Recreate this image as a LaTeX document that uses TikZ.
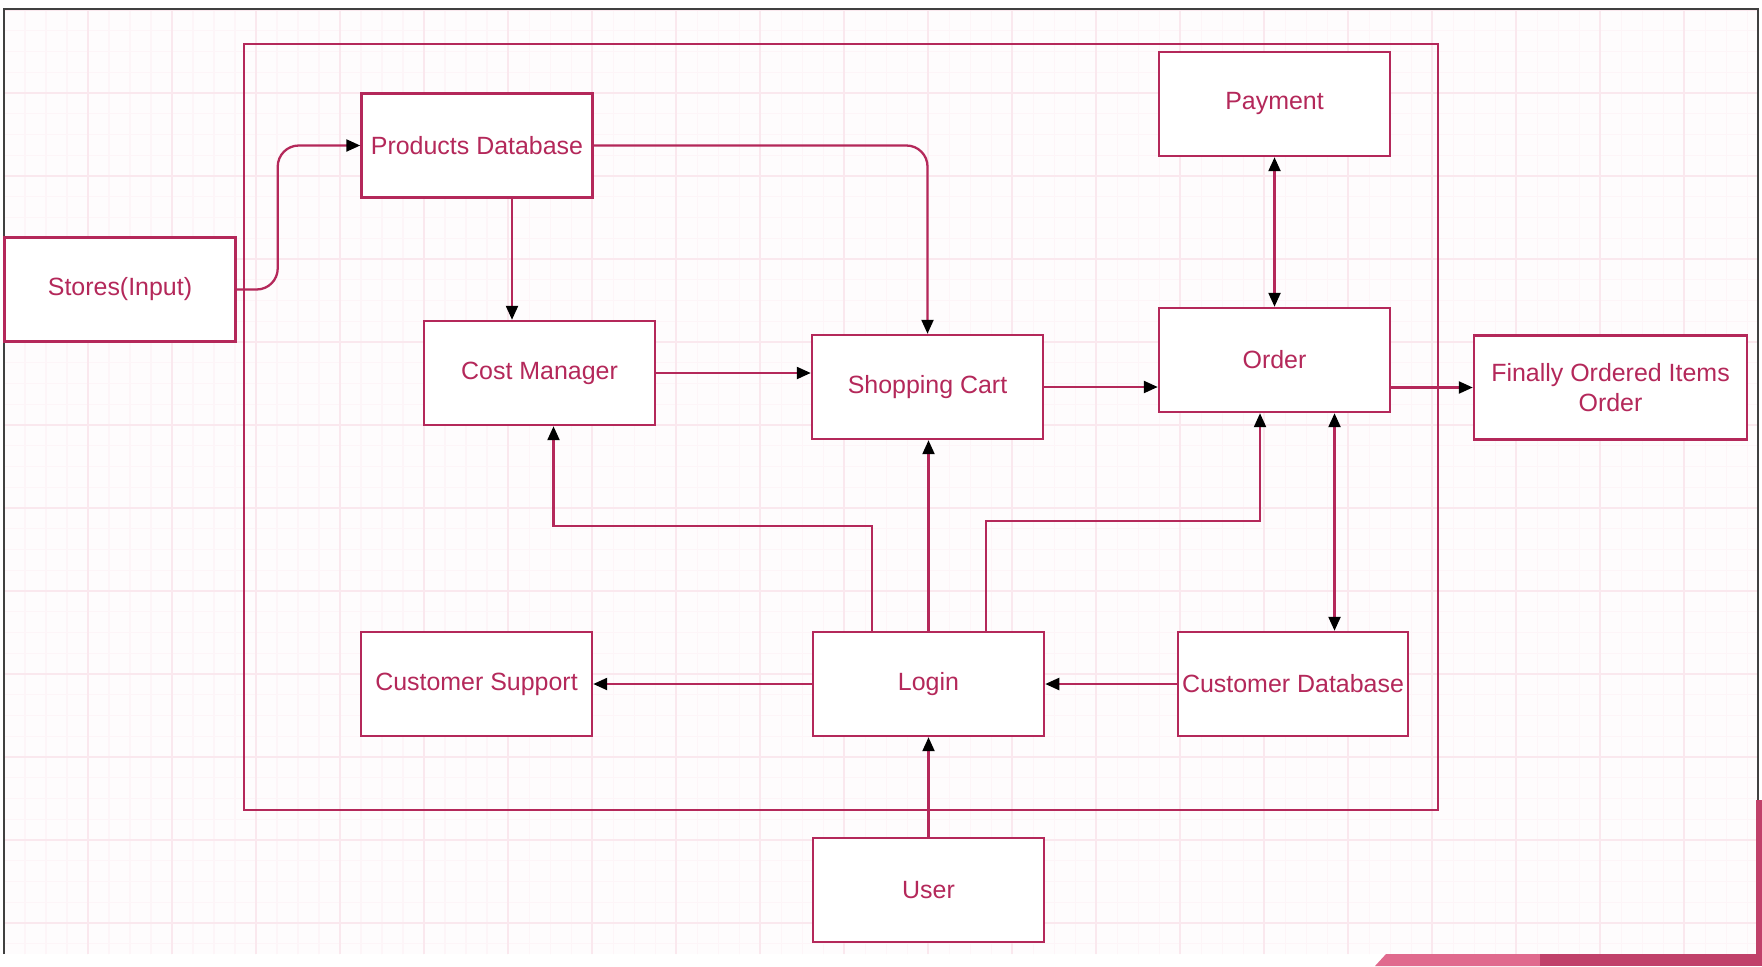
\documentclass[tikz,border=0pt]{standalone}
\usepackage{fontspec}
\setmainfont{Liberation Sans}
\usepackage{xcolor}
\usepackage{tikz}
\usetikzlibrary{arrows.meta}
\usetikzlibrary{positioning}

\definecolor{crimson}{RGB}{180,40,90}
\definecolor{gridmajor}{RGB}{250,232,238}
\definecolor{gridminor}{RGB}{253,245,248}
\definecolor{paper}{RGB}{254,252,253}
\definecolor{stripelight}{RGB}{224,106,142}
\definecolor{stripedark}{RGB}{192,65,106}

\begin{document}
\begin{tikzpicture}[
    compbox/.style={rectangle,draw=crimson,line width=0.7pt,fill=white,text=crimson,
        minimum width=2.31cm,minimum height=1.04cm,inner sep=1pt,align=center,
        font=\fontsize{7.1pt}{8.6pt}\selectfont},
    flow/.style={draw=crimson,line width=0.65pt,-{Triangle[color=black,length=0.14cm,width=0.12cm]}},
    twoway/.style={draw=crimson,line width=0.65pt,
        {Triangle[color=black,length=0.14cm,width=0.12cm]}-{Triangle[color=black,length=0.14cm,width=0.12cm]}}
]
    \useasboundingbox (0,0) rectangle (17.62,9.66);
    \fill[white] (0,0) rectangle (17.62,9.66);

    % grid paper
    \fill[paper] (0.04,0.12) rectangle (17.58,9.57);
    \begin{scope}
       \clip (0.04,0.12) rectangle (17.58,9.57);
       \foreach \i in {0,...,84}
          \draw[gridminor, line width=0.3pt] (0.04+0.21*\i,0.12) -- (0.04+0.21*\i,9.57);
       \foreach \j in {0,...,46}
          \draw[gridminor, line width=0.3pt] (0.04,9.56-0.2075*\j) -- (17.58,9.56-0.2075*\j);
       \foreach \i in {0,...,20}
          \draw[gridmajor, line width=0.6pt] (0.04+0.84*\i,0.12) -- (0.04+0.84*\i,9.57);
       \foreach \j in {0,...,11}
          \draw[gridmajor, line width=0.6pt] (0.04,9.56-0.83*\j) -- (17.58,9.56-0.83*\j);
    \end{scope}
    \draw[black!75, line width=0.6pt] (0.04,0.12) -- (0.04,9.57) -- (17.58,9.57) -- (17.58,0.12);

    % slide corner
    \fill[stripelight] (13.75,0) -- (13.86,0.12) -- (15.40,0.12) -- (15.40,0) -- cycle;
    \fill[stripedark] (15.40,0) rectangle (17.58,0.12);
    \fill[stripedark] (17.56,0) rectangle (17.62,1.66);

    % system boundary
    \draw[crimson, line width=0.7pt] (2.44,1.56) rectangle (14.38,9.22);

    \node[compbox] (stores) at (1.20,6.765) {Stores(Input)};
    \node[compbox] (proddb) at (4.77,8.205) {Products Database};
    \node[compbox] (cost) at (5.395,5.93) {Cost Manager};
    \node[compbox] (cart) at (9.275,5.79) {Shopping Cart};
    \node[compbox] (payment) at (12.745,8.62) {Payment};
    \node[compbox] (order) at (12.745,6.06) {Order};
    \node[compbox, minimum width=2.73cm] (final) at (16.105,5.785) {Finally Ordered Items\\Order};
    \node[compbox] (support) at (4.765,2.82) {Customer Support};
    \node[compbox] (login) at (9.285,2.82) {Login};
    \node[compbox, minimum width=2.30cm] (custdb) at (12.93,2.82) {Customer Database};
    \node[compbox] (user) at (9.285,0.76) {User};

    \draw[flow, rounded corners=6pt] (stores.east) -- ++(0.41,0) |- (proddb.west);
    \draw[flow, rounded corners=6pt] (proddb.east) -| (cart.north);
    \draw[flow] ([xshift=0.35cm]proddb.south) -- ([xshift=0.35cm]proddb.south |- cost.north);
    \draw[flow] (cost.east) -- (cost.east -| cart.west);
    \draw[flow] (cart.east) -- (cart.east -| order.west);
    \draw[flow] (final.west -| order.east) -- (final.west);
    \draw[twoway] (payment.south) -- (order.north);
    \draw[twoway] ([xshift=0.6cm]order.south) -- ([xshift=0.6cm]order.south |- custdb.north);

    \draw[flow] ([xshift=-0.565cm]login.north) -- ++(0,1.05) -| ([xshift=0.14cm]cost.south);
    \draw[flow] (login.north) -- (login.north |- cart.south);
    \draw[flow] ([xshift=0.575cm]login.north) -- ++(0,1.10) -| ([xshift=-0.145cm]order.south);
    \draw[flow] (login.west) -- (support.east);
    \draw[flow] (custdb.west) -- (login.east);
    \draw[flow] (user.north) -- (login.south);

\end{tikzpicture}
\end{document}
